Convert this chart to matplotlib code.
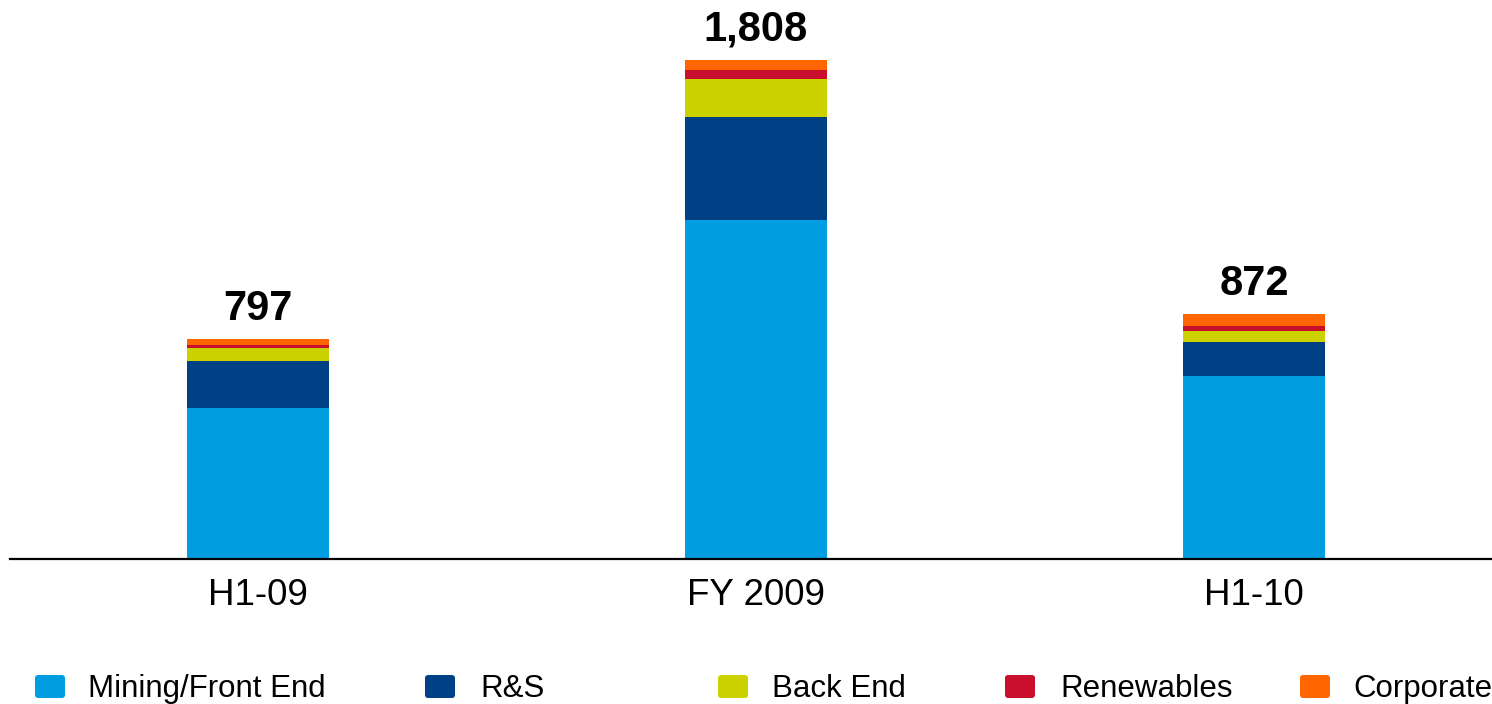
import matplotlib.pyplot as plt
from matplotlib.patches import FancyBboxPatch
import numpy as np

plt.rcParams['font.family'] = ['Liberation Sans', 'DejaVu Sans']

periods = ['H1-09', 'FY 2009', 'H1-10']
totals = ['797', '1,808', '872']
segments = ['Mining/Front End', 'R&S', 'Back End', 'Renewables', 'Corporate']
mining = [545, 1228, 663]
rs = [171, 373, 123]
back_end = [47, 138, 40]
renewables = [11, 33, 18]
corporate = [23, 36, 43]
colors = ['#009EE0', '#004185', '#CCD100', '#C8102E', '#FF6600']

fig = plt.figure(figsize=(14.92, 7.04), dpi=100)
ax = fig.add_axes([10 / 1492, 145 / 704, 1482 / 1492, 559 / 704])

x = np.arange(len(periods))
bottom = np.zeros(len(periods))
for vals, col in zip([mining, rs, back_end, renewables, corporate], colors):
    ax.bar(x, vals, width=0.287, bottom=bottom, color=col, linewidth=0)
    bottom += np.array(vals)

for xi, top, lab in zip(x, bottom, totals):
    ax.annotate(lab, (xi, top), xytext=(0, 7), textcoords='offset points',
                ha='center', va='bottom', fontsize=30, fontweight='bold')

ax.set_xlim(-0.498, 2.478)
ax.set_ylim(0, 2024)
ax.set_xticks(x)
ax.set_xticklabels(periods, fontsize=26.5)
ax.tick_params(axis='x', length=0, pad=14)
ax.set_yticks([])
for s in ['top', 'left', 'right']:
    ax.spines[s].set_visible(False)
ax.spines['bottom'].set_linewidth(1.6)

# legend drawn on an overlay in pixel coordinates
lax = fig.add_axes([0, 0, 1, 1])
lax.set_xlim(0, 1492)
lax.set_ylim(704, 0)
lax.axis('off')
marker_x = [35, 425, 718, 1005, 1300]
text_x = [88, 480, 772, 1060, 1353]
for mx, tx, name, col in zip(marker_x, text_x, segments, colors):
    lax.add_patch(FancyBboxPatch((mx + 3, 678), 24, 17,
                                 boxstyle='round,pad=3', color=col, lw=0))
    lax.text(tx, 689, name, fontsize=22.5, va='center', ha='left')

fig.savefig('out.png', dpi=100)
